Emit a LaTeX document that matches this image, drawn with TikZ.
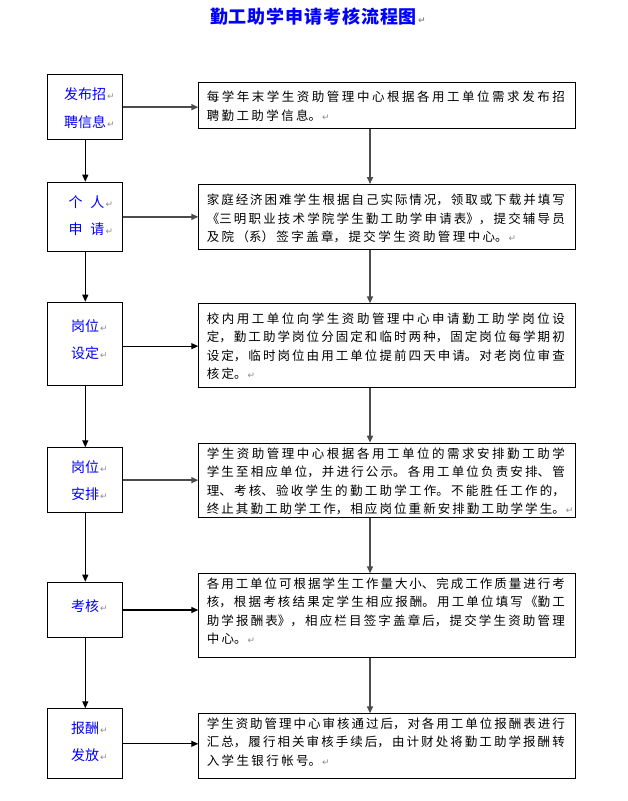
\documentclass[tikz,border=0pt]{standalone}
\usepackage{fontspec}
\setmainfont{Noto Sans CJK SC}
\newfontfamily\cjk{Noto Sans CJK SC}
\newfontfamily\cjkt[LetterSpace=5]{Noto Sans CJK SC}
\newfontfamily\djv{DejaVu Sans}
\usetikzlibrary{arrows.meta,calc}
\XeTeXlinebreaklocale "zh"
\XeTeXlinebreakskip=0pt
\newcommand\pmk{{\djv\color{black!45}\fontsize{9}{9}\selectfont\kern1pt ↵}}
\newcommand\rpmk{\rlap{\pmk}}
\newcommand\rtfont{\cjk\fontsize{12.5}{18.5}\selectfont\XeTeXlinebreakskip=2.4pt plus 2pt minus 1.5pt\relax}
\tikzset{
  lbox/.style={draw=black, line width=1pt, minimum width=75pt, anchor=north west, inner sep=0pt},
  rbox/.style={draw=black, line width=1pt, minimum width=376.7pt, anchor=north west, inner sep=0pt},
  lbl/.style={text=blue, font=\cjk\fontsize{14}{27.5}\selectfont, align=center, inner sep=0pt},
  rtxt/.style={font=\rtfont, text width=358pt, align=justify, inner sep=0pt, anchor=base west},
  arr/.style={-{Triangle[length=7pt,width=6pt]}, line width=1.2pt, draw=black},
  garr/.style={arr, draw=black!70, line width=1.5pt},
}
\begin{document}
\begin{tikzpicture}[x=1pt,y=-1pt]
\useasboundingbox (0,0) rectangle (627,801);
% title
\node[text=blue, font=\cjkt\bfseries\fontsize{18}{18}\selectfont, inner sep=0pt] (title) at (313.5,17) {勤工助学申请考核流程图\rpmk};
% left boxes
\node[lbox, minimum height=64.7pt] (l1) at (47.3,74.3) {};
\node[lbox, minimum height=69.3pt] (l2) at (47.3,181.7) {};
\node[lbox, minimum height=83.3pt] (l3) at (47.3,301.7) {};
\node[lbox, minimum height=64.7pt] (l4) at (47.3,447.3) {};
\node[lbox, minimum height=55.6pt] (l5) at (47.3,581.7) {};
\node[lbox, minimum height=70pt]   (l6) at (47.3,708.3) {};
% left labels
\node[lbl] (lb1) at (85,108) {发布招\rpmk\\聘信息\rpmk};
\node[lbl] (lb2) at (86.5,215.7) {个\hspace{8pt}人\rpmk\\申\hspace{8pt}请\rpmk};
\node[lbl] (lb3) at (85,339.5) {岗位\rpmk\\设定\rpmk};
\node[lbl] (lb4) at (85,480.5) {岗位\rpmk\\安排\rpmk};
\node[lbl] (lb5) at (85,605.7) {考核\rpmk};
\node[lbl] (lb6) at (85,741.7) {报酬\rpmk\\发放\rpmk};
% right boxes
\node[rbox, minimum height=46pt]   (r1) at (198.3,82.3) {};
\node[rbox, minimum height=65.3pt] (r2) at (198.3,184) {};
\node[rbox, minimum height=84pt]   (r3) at (198.3,303.3) {};
\node[rbox, minimum height=74.6pt] (r4) at (198.3,442.7) {};
\node[rbox, minimum height=84pt]   (r5) at (198.3,573.3) {};
\node[rbox, minimum height=65pt]   (r6) at (198.3,713.3) {};
% right texts
\node[rtxt] (t1) at (206.6,101.5) {每学年末学生资助管理中心根据各用工单位需求发布招\linebreak 聘勤工助学信息。\rpmk};
\node[rtxt] (t2) at (206.6,204.8) {家庭经济困难学生根据自己实际情况，领取或下载并填写\linebreak 《三明职业技术学院学生勤工助学申请表》，提交辅导员\linebreak 及院（系）签字盖章，提交学生资助管理中心。\rpmk};
\node[rtxt] (t3) at (206.6,323) {校内用工单位向学生资助管理中心申请勤工助学岗位设\linebreak 定，勤工助学岗位分固定和临时两种，固定岗位每学期初\linebreak 设定，临时岗位由用工单位提前四天申请。对老岗位审查\linebreak 核定。\rpmk};
\node[rtxt] (t4) at (206.6,458) {学生资助管理中心根据各用工单位的需求安排勤工助学\linebreak 学生至相应单位，并进行公示。各用工单位负责安排、管\linebreak 理、考核、验收学生的勤工助学工作。不能胜任工作的，\linebreak 终止其勤工助学工作，相应岗位重新安排勤工助学学生。\rpmk};
\node[rtxt] (t5) at (206.6,588) {各用工单位可根据学生工作量大小、完成工作质量进行考\linebreak 核，根据考核结果定学生相应报酬。用工单位填写《勤工\linebreak 助学报酬表》，相应栏目签字盖章后，提交学生资助管理\linebreak 中心。\rpmk};
\node[rtxt] (t6) at (206.6,728) {学生资助管理中心审核通过后，对各用工单位报酬表进行\linebreak 汇总，履行相关审核手续后，由计财处将勤工助学报酬转\linebreak 入学生银行帐号。\rpmk};
% left vertical arrows
\draw[arr] (l1.south) -- (l2.north);
\draw[arr] (l2.south) -- (l3.north);
\draw[arr] (l3.south) -- (l4.north);
\draw[arr] (l4.south) -- (l5.north);
\draw[arr] (l5.south) -- (l6.north);
% horizontal arrows
\draw[garr] (l1.east) -- (l1.east -| r1.west);
\draw[garr] (l2.east) -- (l2.east -| r2.west);
\draw[arr]  ($(l3.east)+(0,2.3)$) -- ($(l3.east -| r3.west)+(0,2.3)$);
\draw[garr] (l4.east) -- (l4.east -| r4.west);
\draw[arr]  (l5.east) -- (l5.east -| r5.west);
\draw[arr]  (l6.east) -- (l6.east -| r6.west);
% right vertical arrows
\coordinate (xr) at (370,0);
\draw[garr] (r1.south -| xr) -- (r2.north -| xr);
\draw[garr] (r2.south -| xr) -- (r3.north -| xr);
\draw[garr] (r3.south -| xr) -- (r4.north -| xr);
\draw[garr] (r4.south -| xr) -- (r5.north -| xr);
\draw[garr] (r5.south -| xr) -- (r6.north -| xr);
\end{tikzpicture}
\end{document}
